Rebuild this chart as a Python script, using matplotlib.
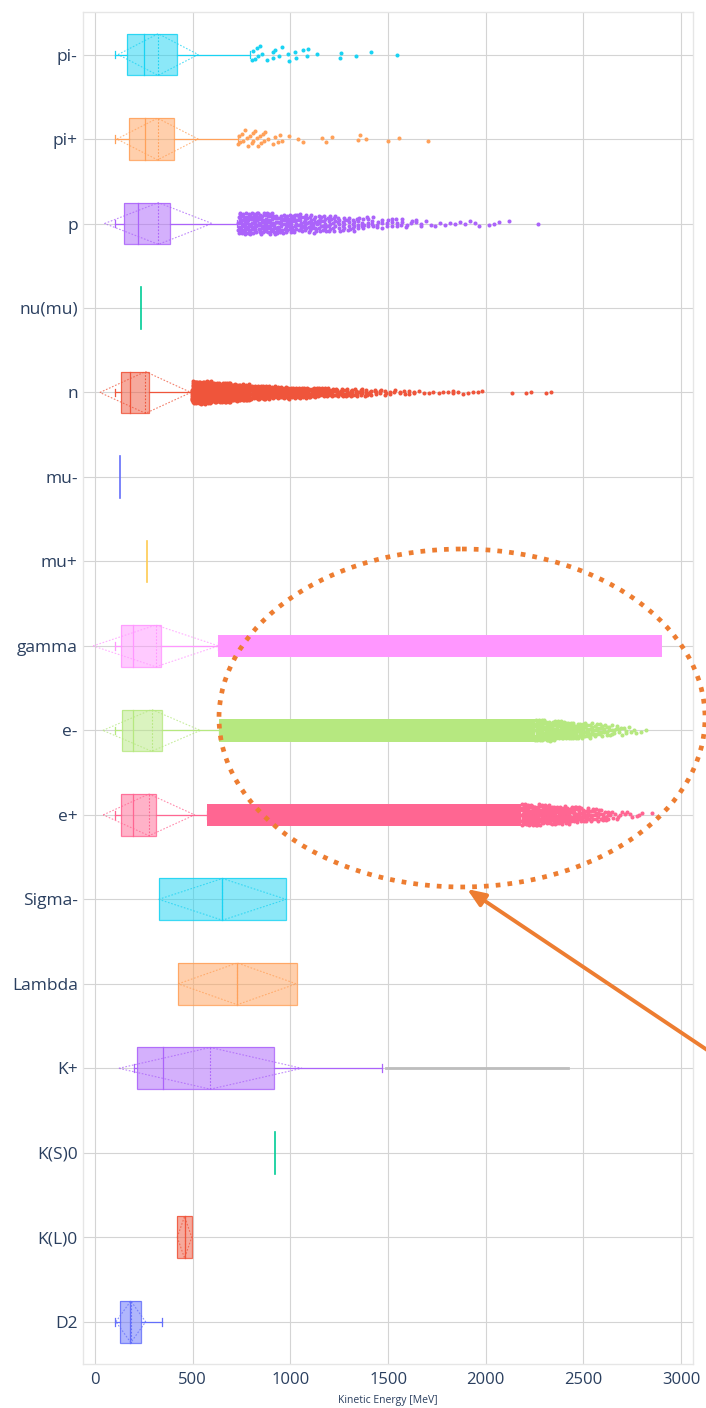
import numpy as np
import matplotlib
matplotlib.use("Agg")
from matplotlib import pyplot as plt
from matplotlib.patches import Ellipse, Rectangle

plt.rcParams["font.family"] = ["Open Sans", "DejaVu Sans"]

# categories, bottom -> top (trace order)
particles = ["D2", "K(L)0", "K(S)0", "K+", "Lambda", "Sigma-", "e+", "e-", "gamma",
             "mu+", "mu-", "n", "nu(mu)", "p", "pi+", "pi-"]
colors = ["#636EFA", "#EF553B", "#00CC96", "#AB63FA", "#FFA15A", "#19D3F3", "#FF6692",
          "#B6E880", "#FF97FF", "#FECB52", "#636EFA", "#EF553B", "#00CC96", "#AB63FA",
          "#FFA15A", "#19D3F3"]

# box statistics [MeV]
q1 = [128, 421, 920, 217, 427, 325, 131, 136, 131, 264, 128, 131, 237, 150, 175, 163]
median = [181, 458, 920, 350, 728, 652, 192, 196, 192, 264, 128, 181, 237, 218, 256, 252]
q3 = [237, 496, 920, 917, 1032, 977, 314, 342, 338, 264, 128, 278, 237, 383, 402, 419]
whisk_lo = [102, 421, 920, 197, 427, 325, 101, 101, 101, 264, 128, 102, 237, 100, 102, 102]
whisk_hi = [343, 496, 920, 1469, 1032, 977, 575, 635, 627, 264, 128, 495, 237, 728, 733, 792]
mean = [183, 458, 920, 590, 728, 652, 276, 290, 311, 264, 128, 258, 237, 324, 320, 323]
sd = [76, 37, 0, 468, 302, 326, 234, 250, 321, 0, 0, 233, 0, 275, 208, 205]

# outliers read one by one
pi_minus_out = [802, 810, 818, 827, 836, 844, 853, 880, 909, 913, 921, 943, 955, 989, 994,
                1023, 1028, 1066, 1083, 1092, 1134, 1254, 1257, 1336, 1411, 1547]
pi_plus_out = [733, 738, 742, 750, 759, 768, 776, 785, 793, 802, 806, 810, 819, 827, 836,
               844, 850, 858, 865, 870, 887, 909, 921, 938, 947, 955, 994, 1040, 1066,
               1160, 1182, 1211, 1348, 1356, 1387, 1501, 1557, 1702]

# dense outliers as counts per bin (start, width, counts)
p_bins = (730, 100, [60, 55, 45, 40, 35, 25, 18, 12, 10, 6, 4, 4, 3, 3, 0, 1])
n_bins = (495, 100, [220, 170, 120, 85, 65, 50, 42, 32, 26, 14, 8, 6, 4, 5, 4, 0, 1, 2, 2])
e_minus_bins = (2250, 50, [45, 38, 32, 28, 24, 20, 16, 12, 8, 5, 3, 1])
e_plus_bins = (2180, 50, [45, 40, 36, 32, 28, 25, 20, 16, 12, 7, 4, 3, 2, 1])

# solid bands of overlapping outliers
gamma_band = (627, 2900)
e_minus_band = (635, 2250)
e_plus_band = (575, 2180)

kplus_tail = (1491, 2420)

HALF = 0.247
CAP = 0.046
SPREAD = 0.134


def jitter(n, amp):
    k = np.arange(n)
    return SPREAD * amp * (2 * ((k * 0.5698402910 + 0.13) % 1) - 1)


def from_bins(start, width, counts):
    full = max(counts)
    xs, amps = [], []
    for b, n in enumerate(counts):
        k = np.arange(n)
        xs.append(start + width * (b + (k * 0.7548776662 + 0.37) % 1))
        amps.append(np.full(n, np.sqrt(n / full)))
    return np.concatenate(xs), np.concatenate(amps)


def from_list(values):
    xs = np.asarray(values, dtype=float)
    dens = np.array([(np.abs(xs - x) < 40).sum() for x in xs])
    return xs, 0.8 * np.sqrt(dens / dens.max())


fig = plt.figure(figsize=(7.06, 14.08), dpi=100)
ax = fig.add_axes([83.3 / 706, 1 - 1364 / 1408, (692.7 - 83.3) / 706, (1364 - 12.3) / 1408])

for i, name in enumerate(particles):
    c = colors[i]
    if q1[i] == q3[i]:
        ax.plot([median[i]] * 2, [i - HALF, i + HALF], color=c, lw=1.2, zorder=3)
        continue
    ax.add_patch(Rectangle((q1[i], i - HALF), q3[i] - q1[i], 2 * HALF, fc=c, alpha=0.5,
                           ec="none", zorder=3))
    ax.add_patch(Rectangle((q1[i], i - HALF), q3[i] - q1[i], 2 * HALF, fc="none",
                           ec=c, lw=0.9, alpha=0.85, zorder=4))
    ax.plot([median[i]] * 2, [i - HALF, i + HALF], color=c, lw=0.9, zorder=4)
    ax.plot([mean[i]] * 2, [i - HALF, i + HALF], color=c, lw=0.8, ls=(0, (1.5, 1.5)), zorder=4)
    ax.plot([whisk_lo[i], q1[i]], [i, i], color=c, lw=0.9, zorder=3)
    ax.plot([q3[i], whisk_hi[i]], [i, i], color=c, lw=0.9, zorder=3)
    if whisk_lo[i] < q1[i]:
        ax.plot([whisk_lo[i]] * 2, [i - CAP, i + CAP], color=c, lw=0.9, zorder=3)
    if whisk_hi[i] > q3[i]:
        ax.plot([whisk_hi[i]] * 2, [i - CAP, i + CAP], color=c, lw=0.9, zorder=3)
    m, s = mean[i], sd[i]
    ax.plot([m - s, m, m + s, m, m - s], [i, i + HALF, i, i - HALF, i], color=c, lw=0.8,
            ls=(0, (1.5, 1.5)), alpha=0.75, zorder=4)

# K+ grey tail
k = particles.index("K+")
ax.plot(kplus_tail, [k, k], color="#bdbdbd", lw=2.0, zorder=2)

# bands
for name, band in [("gamma", gamma_band), ("e-", e_minus_band), ("e+", e_plus_band)]:
    i = particles.index(name)
    ax.add_patch(Rectangle((band[0], i - SPREAD), band[1] - band[0], 2 * SPREAD,
                           fc=colors[i], ec="none", zorder=5))

# outlier points
sets = [("pi-", from_list(pi_minus_out)), ("pi+", from_list(pi_plus_out)),
        ("p", from_bins(*p_bins)), ("n", from_bins(*n_bins)),
        ("e-", from_bins(*e_minus_bins)), ("e+", from_bins(*e_plus_bins))]
for name, (xs, amps) in sets:
    i = particles.index(name)
    ys = i + jitter(len(xs), amps)
    ax.scatter(xs, ys, s=8.5, color=colors[i], lw=0, zorder=5)

ax.set_xlim(-60, 3059)
ax.set_ylim(-0.5, 15.5)
ax.set_yticks(range(len(particles)))
ax.set_yticklabels(particles)
ax.set_xticks(np.arange(0, 3001, 500))
ax.tick_params(axis="y", length=0, pad=4, labelsize=12.5, labelcolor="#2a3f5f")
ax.tick_params(axis="x", length=0, pad=6, labelsize=12, labelcolor="#2a3f5f")
ax.set_xlabel("Kinetic Energy [MeV]", fontsize=7.5, color="#2a3f5f", labelpad=5)
ax.grid(color="#d4d4d4", lw=0.8, zorder=0)
ax.set_axisbelow(True)
for sp in ax.spines.values():
    sp.set_color("#e6e6e6")
    sp.set_linewidth(1.0)

# annotation overlay in pixel coordinates
ov = fig.add_axes([0, 0, 1, 1], facecolor="none")
ov.set_xlim(0, 706)
ov.set_ylim(1408, 0)
ov.axis("off")
ov.add_patch(Ellipse((462, 718), 486, 338, fill=False, ec="#ED7D31", lw=3.4,
                     ls=(0, (1, 1.5))))
ov.annotate("", xy=(467, 889), xytext=(740, 1072),
            arrowprops=dict(arrowstyle="-|>,head_length=0.9,head_width=0.36",
                            color="#ED7D31", lw=2.8, shrinkA=0, shrinkB=0,
                            mutation_scale=12))

fig.savefig("out.png", dpi=100)
